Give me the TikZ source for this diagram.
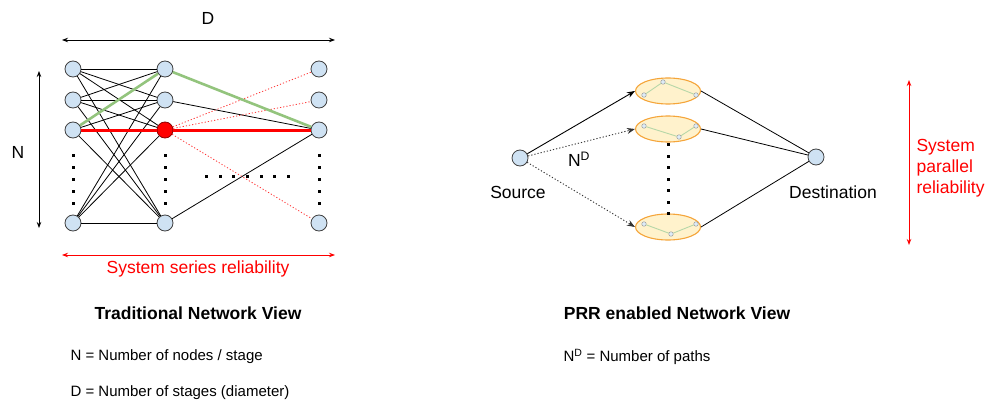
\documentclass[tikz,border=0pt]{standalone}
\usepackage{fontspec}
\setmainfont{Liberation Sans}
\usetikzlibrary{arrows.meta,shapes.geometric}
\definecolor{nodeblue}{HTML}{CFE2F3}
\definecolor{ellfill}{HTML}{FFF2CC}
\definecolor{ellorange}{HTML}{F5A53A}
\definecolor{pathgreen}{HTML}{93C47D}
\definecolor{minigreen}{HTML}{B6D7A8}
\begin{document}
\begin{tikzpicture}[x=1pt,y=-1pt,
  netnode/.style={circle, draw=black!75, fill=nodeblue, minimum size=16pt, inner sep=0pt, line width=0.8pt},
  rednode/.style={netnode, fill=red, draw=red!55!black},
  pathell/.style={ellipse, draw=ellorange, fill=ellfill, minimum width=65pt, minimum height=26pt, inner sep=0pt, line width=1.1pt},
  mini/.style={circle, draw=gray!75, fill=nodeblue!70, minimum size=4.5pt, inner sep=0pt, line width=0.5pt},
  big/.style={font=\fontsize{17.5pt}{21pt}\selectfont},
  small/.style={font=\fontsize{15pt}{18pt}\selectfont},
  title/.style={font=\fontsize{17.5pt}{21pt}\selectfont\bfseries},
  mesh/.style={black, line width=0.8pt},
  reddot/.style={red!80, line width=0.8pt, dash pattern=on 1.2pt off 2pt},
  blackdot/.style={black!80, line width=0.9pt, dash pattern=on 1.2pt off 2pt},
  arr/.style={-{Stealth[length=8pt,width=6pt]}},
  dimarr/.style={{Stealth[length=6pt,width=4.5pt]}-{Stealth[length=6pt,width=4.5pt]}, line width=0.9pt}
]
\useasboundingbox (0,0) rectangle (1000,417);

% ---------------- left network ----------------
\foreach \r/\y in {1/69,2/100,3/130,4/223}{
  \node[netnode] (a\r) at (73,\y) {};
  \node[netnode] (c\r) at (319,\y) {};
}
\node[netnode] (b1) at (165,69) {};
\node[netnode] (b2) at (165,100) {};
\node[rednode] (b3) at (165,130) {};
\node[netnode] (b4) at (165,223) {};

\foreach \i in {1,2,3,4}{
  \foreach \j in {1,2,3,4}{
    \draw[mesh] (a\i) -- (b\j);
  }
}
\draw[mesh] (b2) -- (c3);
\draw[mesh] (b4) -- (c3);
\draw[reddot] (b3) -- (c1);
\draw[reddot] (b3) -- (c2);
\draw[reddot] (b3) -- (c4);
\draw[pathgreen, line width=2.6pt] (a3) -- (b1);
\draw[pathgreen, line width=2.6pt] (b1) -- (c3);
\draw[red, line width=3pt] (a3) -- (b3);
\draw[red, line width=3pt] (b3) -- (c3);

% dots
\foreach \x in {73,165,319}{
  \foreach \y in {155,167,179,191,203}{
    \fill[black] (\x-1.5,\y-1.5) rectangle (\x+1.5,\y+1.5);
  }
}
\foreach \x in {206,220,233,247,261,274,288}{
  \fill[black] (\x-1.5,176-1.5) rectangle (\x+1.5,176+1.5);
}

% dimension arrows
\coordinate (dL) at (62,40);
\coordinate (dR) at (335,40);
\draw[dimarr] (dL) -- (dR);
\node[big] (dlab) at (208,18) {D};
\coordinate (nT) at (39,71);
\coordinate (nB) at (39,228);
\draw[dimarr] (nT) -- (nB);
\node[big] (nlab) at (18,152) {N};
\coordinate (sL) at (62,255);
\coordinate (sR) at (335,255);
\draw[dimarr, red] (sL) -- (sR);
\node[big, text=red] (slab) at (198,269) {System series reliability};

\node[title] (t1) at (198,313) {Traditional Network View};
\node[small, anchor=west] (n1) at (67,357) {N = Number of nodes / stage};
\node[small, anchor=west] (n2) at (67,393) {D = Number of stages (diameter)};

% ---------------- right network ----------------
\node[netnode] (src) at (520,158) {};
\node[netnode] (dst) at (816,157) {};
\node[big] (srclab) at (518,192) {Source};
\node[big] (dstlab) at (833,192) {Destination};
\node[big] (ndlab) at (579,159) {N\textsuperscript{D}};

\node[pathell] (e1) at (668,91) {};
\node[pathell] (e2) at (668,129) {};
\node[pathell] (e3) at (668,227) {};

\node[mini] (e1a) at (644,95) {};
\node[mini] (e1b) at (663,82) {};
\node[mini] (e1c) at (696,95) {};
\draw[minigreen, line width=0.9pt] (e1a) -- (e1b) -- (e1c);
\node[mini] (e2a) at (644,126) {};
\node[mini] (e2b) at (679,137) {};
\node[mini] (e2c) at (696,126) {};
\draw[minigreen, line width=0.9pt] (e2a) -- (e2b) -- (e2c);
\node[mini] (e3a) at (644,224) {};
\node[mini] (e3b) at (671,234) {};
\node[mini] (e3c) at (696,224) {};
\draw[minigreen, line width=0.9pt] (e3a) -- (e3b) -- (e3c);

\draw[arr, line width=0.9pt] (src) -- (e1.west);
\draw[arr, blackdot] (src) -- (e2.west);
\draw[arr, blackdot] (src) -- (e3.west);
\draw[mesh] (e1.east) -- (dst);
\draw[mesh] (e2.east) -- (dst);
\draw[mesh] (e3.east) -- (dst);

\foreach \y in {144,156,167,179,190,202,213}{
  \fill[black] (668-1.5,\y-1.5) rectangle (668+1.5,\y+1.5);
}

\coordinate (pT) at (909,80);
\coordinate (pB) at (909,245);
\draw[dimarr, red] (pT) -- (pB);
\node[big, text=red, anchor=north west, align=left] (plab) at (913,136) {System\\parallel\\reliability};

\node[title] (t2) at (677,313) {PRR enabled Network View};
\node[small, anchor=west] (n3) at (560,357) {N\textsuperscript{D} = Number of paths};
\end{tikzpicture}
\end{document}
